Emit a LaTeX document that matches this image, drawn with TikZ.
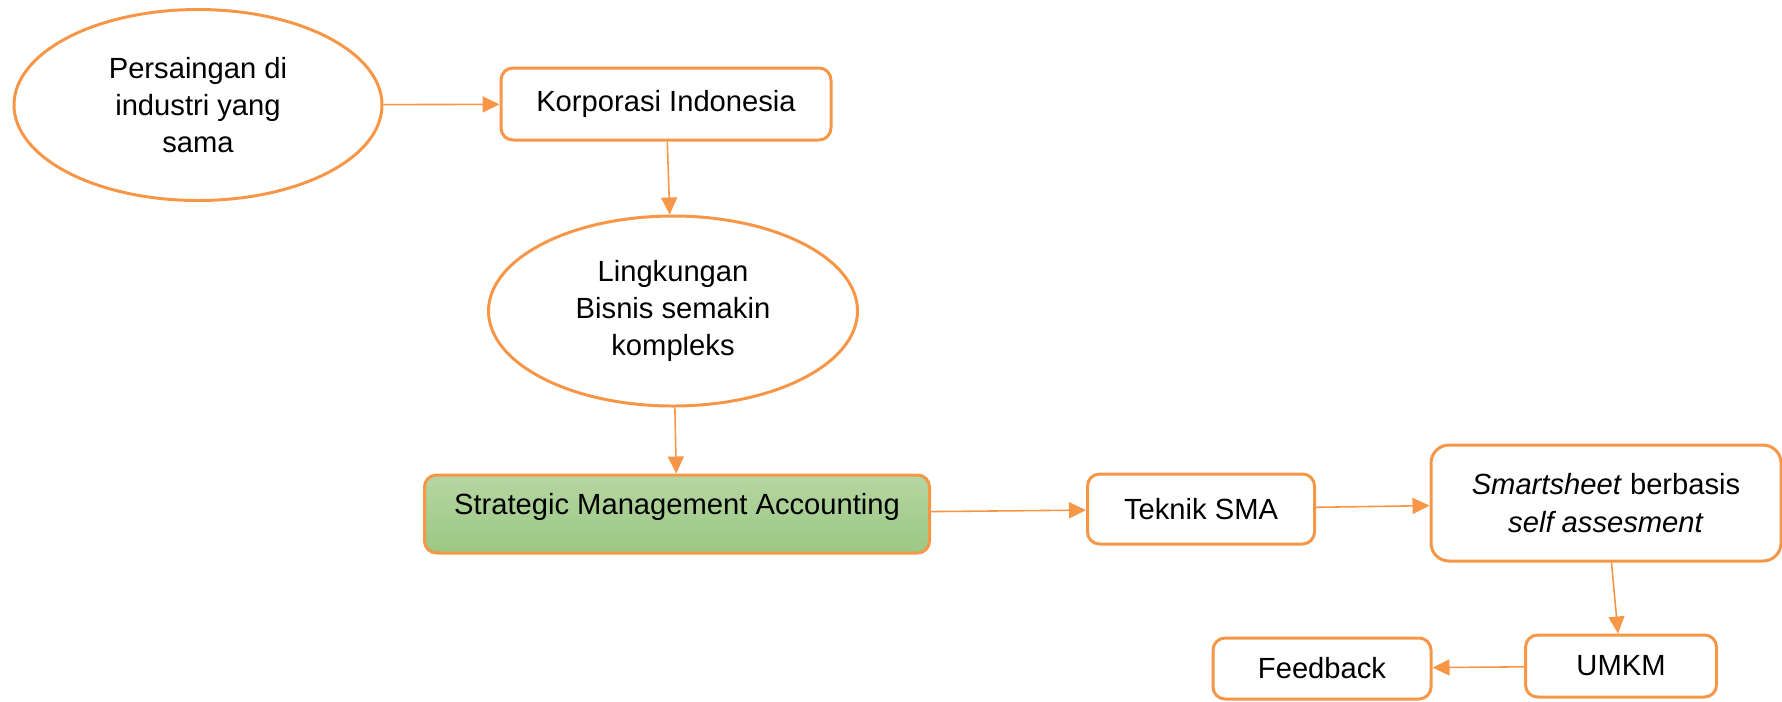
\documentclass[tikz,border=0pt]{standalone}
\usepackage{fontspec}
\setmainfont{Liberation Sans}
\usepackage{tikz}
\usetikzlibrary{arrows.meta, positioning, shapes.geometric}
\definecolor{smaOrange}{HTML}{F79646}
\definecolor{smaGreenTop}{HTML}{B5D6A2}
\definecolor{smaGreenBot}{HTML}{9BC783}
\tikzset{
    % node styles
    idea/.style={ellipse,draw=smaOrange,line width=0.85pt,fill=white,inner sep=0pt,align=center,minimum width=3.68cm,minimum height=1.91cm},
    block/.style={rectangle,rounded corners=0.12cm,draw=smaOrange,line width=0.85pt,fill=white,align=center,inner sep=0pt},
    focus/.style={block,top color=smaGreenTop,bottom color=smaGreenBot},
    % flow styles
    flow/.style={-{Triangle[length=0.17cm,width=0.16cm]},smaOrange,line width=0.45pt}
}

\begin{document}
\begin{tikzpicture}[font=\fontsize{8.3}{10.6}\selectfont]
    \useasboundingbox (0,0) rectangle (17.82,-7.01);

    % Top row
    \node[idea] (saing) at (1.98,-1.05) {Persaingan di\\industri yang\\sama};
    \node[block, minimum width=3.30cm, minimum height=0.72cm] (korp) at (6.66,-1.04) {Korporasi Indonesia};

    % Middle
    \node[idea, minimum width=3.69cm, minimum height=1.90cm] (ling) at (6.73,-3.11) {Lingkungan\\Bisnis semakin\\kompleks};
    \node[focus, minimum width=5.05cm, minimum height=0.78cm, text height=0.21cm, text depth=0.21cm] (sma) at (6.77,-5.14) {Strategic Management Accounting};
    \node[block, minimum width=2.27cm, minimum height=0.70cm] (teknik) at (12.01,-5.09) {Teknik SMA};
    \node[block, minimum width=3.50cm, minimum height=1.16cm, rounded corners=0.18cm] (smart) at (16.06,-5.03) {\textit{Smartsheet} berbasis\\\textit{self assesment}};

    % Bottom row
    \node[block, minimum width=1.91cm, minimum height=0.62cm] (umkm) at (16.21,-6.66) {UMKM};
    \node[block, minimum width=2.18cm, minimum height=0.61cm] (feed) at (13.22,-6.685) {Feedback};

    % Arrows
    \draw[flow] (saing) -- (korp);
    \draw[flow] (korp) -- (ling);
    \draw[flow] (ling) -- (sma);
    \draw[flow] (sma) -- (teknik);
    \draw[flow] (teknik) -- (smart);
    \draw[flow] (smart) -- (umkm);
    \draw[flow] (umkm) -- (feed);
\end{tikzpicture}
\end{document}
